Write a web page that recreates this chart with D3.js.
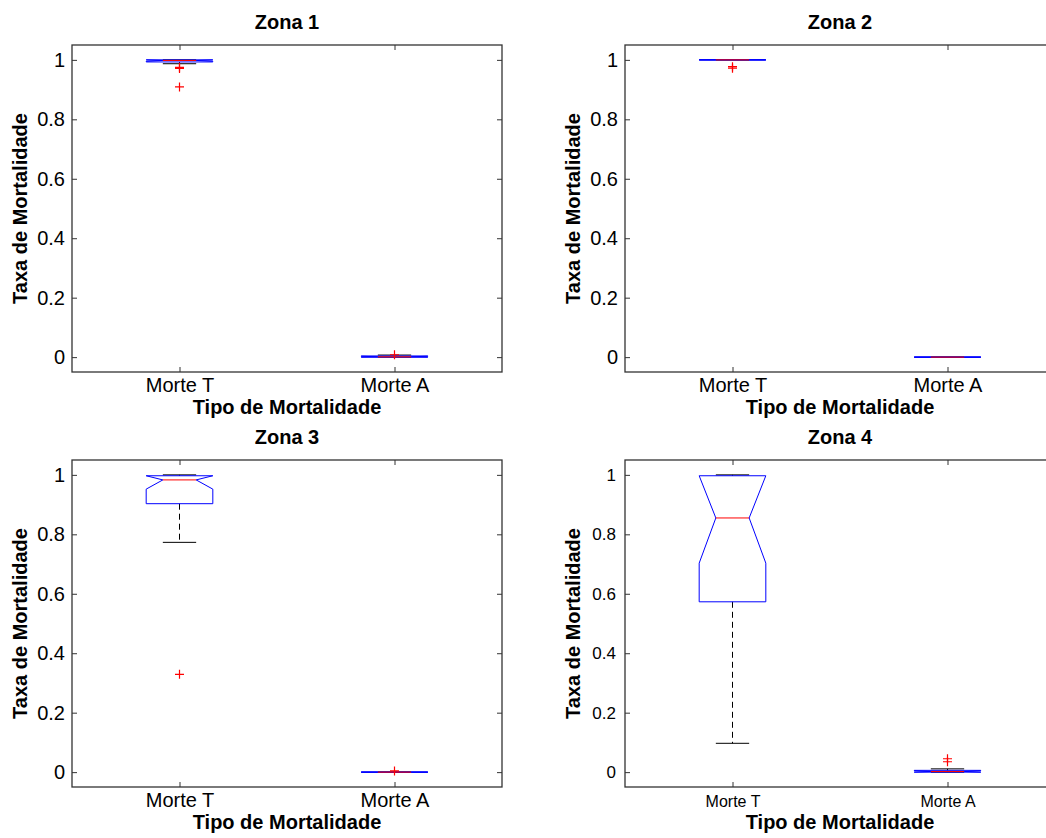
<!DOCTYPE html>
<html>
<head>
<meta charset="utf-8">
<script src="https://cdn.jsdelivr.net/npm/d3@7"></script>
<style>
  body { margin: 0; background: #fff; }
  text { font-family: "Liberation Sans", Arial, sans-serif; fill: #000; }
</style>
</head>
<body>
<div id="chart"></div>
<script>
// valores (zona x categoria)
const zones = ["Zona 1", "Zona 2", "Zona 3", "Zona 4"];
const categories = ["Morte T", "Morte A"];
const yTicks = [0, 0.2, 0.4, 0.6, 0.8, 1];

const q1        = [[0.993, 0.000], [1.000, 0.000], [0.903, 0.000], [0.573, 0.000]];
const q3        = [[1.000, 0.004], [1.000, 0.000], [0.997, 0.000], [0.997, 0.006]];
const medians   = [[0.998, 0.001], [1.000, 0.000], [0.983, 0.000], [0.855, 0.002]];
const notchLo   = [[0.995, 0.000], [1.000, 0.000], [0.952, 0.000], [0.703, 0.000]];
const notchHi   = [[1.000, 0.003], [1.000, 0.000], [0.997, 0.000], [0.997, 0.005]];
const whiskerLo = [[0.987, 0.000], [1.000, 0.000], [0.773, 0.000], [0.097, 0.000]];
const whiskerHi = [[1.000, 0.007], [1.000, 0.000], [1.000, 0.000], [1.000, 0.011]];
const outliers  = [
  [[0.975, 0.971, 0.909], [0.008]],
  [[0.977, 0.972], []],
  [[0.329], [0.004]],
  [[], [0.045, 0.035]]
];

const W = 1046, H = 838;
const pw = 430, ph = 327;
const panels = [
  { left: 72,  top: 45 },
  { left: 625, top: 45 },
  { left: 72,  top: 460 },
  { left: 625, top: 460 }
];
const font = "Liberation Sans, Arial, sans-serif";

const svg = d3.select("#chart").append("svg")
  .attr("width", W)
  .attr("height", H)
  .style("background", "#fff");

zones.forEach((zone, zi) => {
  const p = panels[zi];
  const small = zi === 3; // a zona 4 tem letras menores
  const g = svg.append("g").attr("transform", `translate(${p.left},${p.top})`);

  const x = d3.scalePoint().domain(categories).range([0, pw]).padding(0.5);
  const y = d3.scaleLinear().domain([-0.05, 1.05]).range([ph, 0]);
  const hw = x.step() * 0.155;   // meia largura da caixa
  const nw = hw / 2;             // meia largura no entalhe

  // eixos com ticks para dentro
  const tickFont = small ? "16px" : "20px";
  const yTickFont = small ? "17px" : "20px";

  const axL = g.append("g").call(d3.axisLeft(y).tickValues(yTicks).tickSizeInner(-5).tickSizeOuter(0).tickPadding(small ? 9 : 7).tickFormat(d => String(d)));
  const axR = g.append("g").attr("transform", `translate(${pw},0)`).call(d3.axisRight(y).tickValues(yTicks).tickSizeInner(-5).tickSizeOuter(0).tickFormat(""));
  const axB = g.append("g").attr("transform", `translate(0,${ph})`).call(d3.axisBottom(x).tickSizeInner(-5).tickSizeOuter(0).tickPadding(small ? 9 : 6));
  const axT = g.append("g").call(d3.axisTop(x).tickSizeInner(-5).tickSizeOuter(0).tickFormat(""));

  [axL, axR, axB, axT].forEach(a => {
    a.select(".domain").remove();
    a.selectAll("line").attr("stroke", "#333").attr("stroke-width", 1);
  });
  axL.selectAll("text").style("font-size", yTickFont).style("font-family", font).attr("fill", "#000");
  axB.selectAll("text").style("font-size", tickFont).style("font-family", font).attr("fill", "#000");

  g.append("rect")
    .attr("width", pw).attr("height", ph)
    .attr("fill", "none").attr("stroke", "#333").attr("stroke-width", 1.3);

  categories.forEach((cat, ci) => {
    const cx = x(cat);

    // bigodes tracejados
    g.append("line")
      .attr("x1", cx).attr("x2", cx)
      .attr("y1", y(q3[zi][ci])).attr("y2", y(whiskerHi[zi][ci]))
      .attr("stroke", "#000").attr("stroke-dasharray", "6,4");
    g.append("line")
      .attr("x1", cx).attr("x2", cx)
      .attr("y1", y(q1[zi][ci])).attr("y2", y(whiskerLo[zi][ci]))
      .attr("stroke", "#000").attr("stroke-dasharray", "6,4");

    // extremos dos bigodes
    [whiskerHi[zi][ci], whiskerLo[zi][ci]].forEach(v => {
      g.append("line")
        .attr("x1", cx - nw).attr("x2", cx + nw)
        .attr("y1", y(v)).attr("y2", y(v))
        .attr("stroke", "#000").attr("stroke-width", 1);
    });

    // caixa com entalhe
    const pts = [
      [cx - hw, y(q1[zi][ci])],
      [cx - hw, y(notchLo[zi][ci])],
      [cx - nw, y(medians[zi][ci])],
      [cx - hw, y(notchHi[zi][ci])],
      [cx - hw, y(q3[zi][ci])],
      [cx + hw, y(q3[zi][ci])],
      [cx + hw, y(notchHi[zi][ci])],
      [cx + nw, y(medians[zi][ci])],
      [cx + hw, y(notchLo[zi][ci])],
      [cx + hw, y(q1[zi][ci])]
    ];
    g.append("path")
      .attr("d", d3.line()(pts) + "Z")
      .attr("fill", "none")
      .attr("stroke", "#0000ff")
      .attr("stroke-width", 1);

    // mediana
    g.append("line")
      .attr("x1", cx - nw).attr("x2", cx + nw)
      .attr("y1", y(medians[zi][ci])).attr("y2", y(medians[zi][ci]))
      .attr("stroke", "#ff0000").attr("stroke-width", 1);

    // outliers como +
    outliers[zi][ci].forEach(v => {
      const oy = y(v);
      g.append("path")
        .attr("d", `M${cx - 4.5},${oy}H${cx + 4.5}M${cx},${oy - 4.5}V${oy + 4.5}`)
        .attr("stroke", "#ff0000").attr("stroke-width", 1.2);
    });
  });

  // títulos
  g.append("text")
    .attr("x", pw / 2).attr("y", -16)
    .attr("text-anchor", "middle")
    .style("font-size", "20px").style("font-weight", "bold")
    .text(zone);

  g.append("text")
    .attr("x", pw / 2).attr("y", ph + 42)
    .attr("text-anchor", "middle")
    .style("font-size", "20px").style("font-weight", "bold")
    .text("Tipo de Mortalidade");

  g.append("text")
    .attr("transform", "rotate(-90)")
    .attr("x", -ph / 2).attr("y", -45)
    .attr("text-anchor", "middle")
    .style("font-size", "20px").style("font-weight", "bold")
    .text("Taxa de Mortalidade");
});
</script>
</body>
</html>
